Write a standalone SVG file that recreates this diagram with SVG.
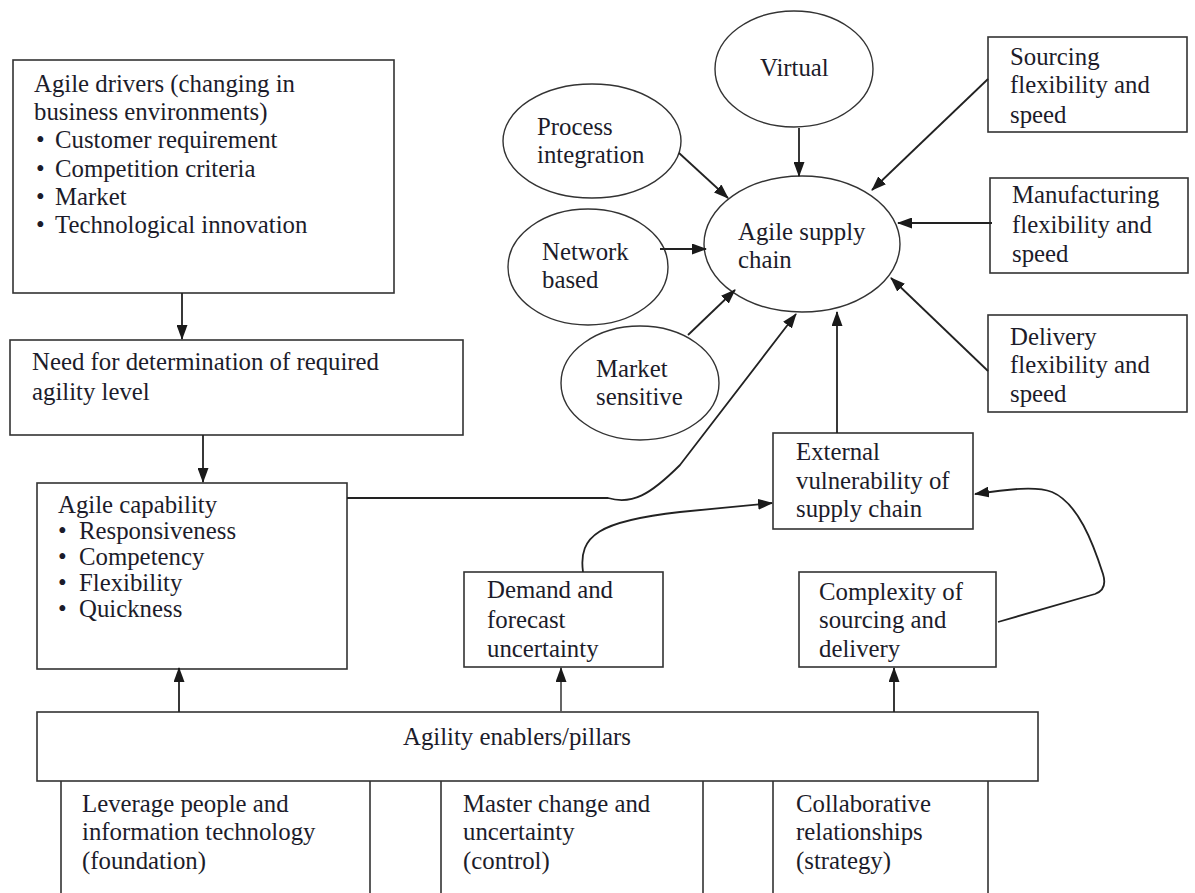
<svg xmlns="http://www.w3.org/2000/svg" width="1195" height="893" viewBox="0 0 1195 893">
  <defs>
    <marker id="arrow" viewBox="0 0 15 11" refX="14" refY="5.5" markerWidth="15" markerHeight="11" markerUnits="userSpaceOnUse" orient="auto">
      <path d="M0,0 L15,5.5 L0,11 Z" fill="#1a1a1a"/>
    </marker>
  </defs>
  <style>
    .box { fill: #ffffff; stroke: #333333; stroke-width: 1.6; }
    .ell { fill: #ffffff; stroke: #333333; stroke-width: 1.4; }
    .edge { fill: none; stroke: #222222; stroke-width: 1.8; marker-end: url(#arrow); }
    .plain { fill: none; stroke: #333333; stroke-width: 1.6; }
    text { font-family: "Liberation Serif", "Times New Roman", serif; font-size: 24.8px; fill: #1c1c2a; }
  </style>
  <rect width="1195" height="893" fill="#ffffff"/>

  <!-- left column -->
  <g id="agile-drivers">
    <rect class="box" x="13" y="60" width="381" height="233"/>
    <text x="34" y="92">Agile drivers (changing in</text>
    <text x="34" y="120">business environments)</text>
    <text x="36" y="148">•</text><text x="55" y="148">Customer requirement</text>
    <text x="36" y="177">•</text><text x="55" y="177">Competition criteria</text>
    <text x="36" y="205">•</text><text x="55" y="205">Market</text>
    <text x="36" y="233">•</text><text x="55" y="233">Technological innovation</text>
  </g>

  <g id="agility-level">
    <rect class="box" x="10" y="340" width="453" height="95"/>
    <text x="32" y="370">Need for determination of required</text>
    <text x="32" y="400">agility level</text>
  </g>

  <g id="agile-capability">
    <rect class="box" x="37" y="483" width="310" height="186"/>
    <text x="58" y="513">Agile capability</text>
    <text x="58" y="539">•</text><text x="79" y="539">Responsiveness</text>
    <text x="58" y="565">•</text><text x="79" y="565">Competency</text>
    <text x="58" y="591">•</text><text x="79" y="591">Flexibility</text>
    <text x="58" y="617">•</text><text x="79" y="617">Quickness</text>
  </g>

  <!-- enablers and the three pillars below them -->
  <g id="agility-enablers">
    <rect class="box" x="37" y="712" width="1001" height="69"/>
    <text x="403" y="745">Agility enablers/pillars</text>
  </g>

  <g id="pillar-foundation">
    <path class="plain" d="M61,781 V893 M370,781 V893"/>
    <text x="82" y="812">Leverage people and</text>
    <text x="82" y="840">information technology</text>
    <text x="82" y="869">(foundation)</text>
  </g>

  <g id="pillar-control">
    <path class="plain" d="M441,781 V893 M703,781 V893"/>
    <text x="463" y="812">Master change and</text>
    <text x="463" y="840">uncertainty</text>
    <text x="463" y="869">(control)</text>
  </g>

  <g id="pillar-strategy">
    <path class="plain" d="M773,781 V893 M988,781 V893"/>
    <text x="796" y="812">Collaborative</text>
    <text x="796" y="840">relationships</text>
    <text x="796" y="869">(strategy)</text>
  </g>

  <!-- uncertainty sources -->
  <g id="demand-uncertainty">
    <rect class="box" x="464" y="572" width="199" height="95"/>
    <text x="487" y="598">Demand and</text>
    <text x="487" y="628">forecast</text>
    <text x="487" y="657">uncertainty</text>
  </g>

  <g id="complexity">
    <rect class="box" x="799" y="572" width="197" height="95"/>
    <text x="819" y="600">Complexity of</text>
    <text x="819" y="628">sourcing and</text>
    <text x="819" y="657">delivery</text>
  </g>

  <g id="external-vulnerability">
    <rect class="box" x="773" y="433" width="200" height="96"/>
    <text x="796" y="460">External</text>
    <text x="796" y="489">vulnerability of</text>
    <text x="796" y="517">supply chain</text>
  </g>

  <!-- agile supply chain and its attributes -->
  <g id="agile-supply-chain">
    <ellipse class="ell" cx="802" cy="244" rx="98" ry="68"/>
    <text x="738" y="240">Agile supply</text>
    <text x="738" y="268">chain</text>
  </g>

  <g id="virtual">
    <ellipse class="ell" cx="794" cy="69" rx="79" ry="58"/>
    <text x="760" y="76">Virtual</text>
  </g>

  <g id="process-integration">
    <ellipse class="ell" cx="592" cy="141" rx="89" ry="57"/>
    <text x="537" y="135">Process</text>
    <text x="537" y="163">integration</text>
  </g>

  <g id="network-based">
    <ellipse class="ell" cx="588" cy="267" rx="80" ry="58"/>
    <text x="542" y="260">Network</text>
    <text x="542" y="288">based</text>
  </g>

  <g id="market-sensitive">
    <ellipse class="ell" cx="640" cy="383" rx="79" ry="57"/>
    <text x="596" y="377">Market</text>
    <text x="596" y="405">sensitive</text>
  </g>

  <g id="sourcing-flexibility">
    <rect class="box" x="988" y="37" width="199" height="95"/>
    <text x="1010" y="65">Sourcing</text>
    <text x="1010" y="93">flexibility and</text>
    <text x="1010" y="123">speed</text>
  </g>

  <g id="manufacturing-flexibility">
    <rect class="box" x="990" y="178" width="198" height="95"/>
    <text x="1012" y="203">Manufacturing</text>
    <text x="1012" y="233">flexibility and</text>
    <text x="1012" y="262">speed</text>
  </g>

  <g id="delivery-flexibility">
    <rect class="box" x="988" y="315" width="199" height="97"/>
    <text x="1010" y="345">Delivery</text>
    <text x="1010" y="373">flexibility and</text>
    <text x="1010" y="402">speed</text>
  </g>

  <!-- connectors -->
  <g id="connectors">
    <path class="edge" d="M182,293 V339"/>
    <path class="edge" d="M203,435 V482"/>
    <path class="edge" d="M179,712 V668"/>
    <path class="edge" d="M561,712 V668" style="stroke:#555555"/>
    <path class="edge" d="M894,712 V668"/>
    <path class="edge" d="M799,128 V176"/>
    <path class="edge" d="M679,153 L728,198"/>
    <path class="edge" d="M660,249 L706,249"/>
    <path class="edge" d="M688,335 L735,290"/>
    <path class="edge" d="M988,79 L872,190"/>
    <path class="edge" d="M992,223 L898,223"/>
    <path class="edge" d="M988,371 L891,278"/>
    <path class="edge" d="M837,433 V312"/>
    <path class="edge" d="M347,498 H608 C632,505 650,495 680,465 L796,314"/>
    <path class="edge" d="M583,572 C578,535 600,521 680,512 L772,503"/>
    <path class="edge" d="M998,622 L1095,594 C1104,591 1106,584 1103,574 C1093,543 1078,503 1052,492 C1036,486 1010,489 975,494"/>
  </g>
</svg>
